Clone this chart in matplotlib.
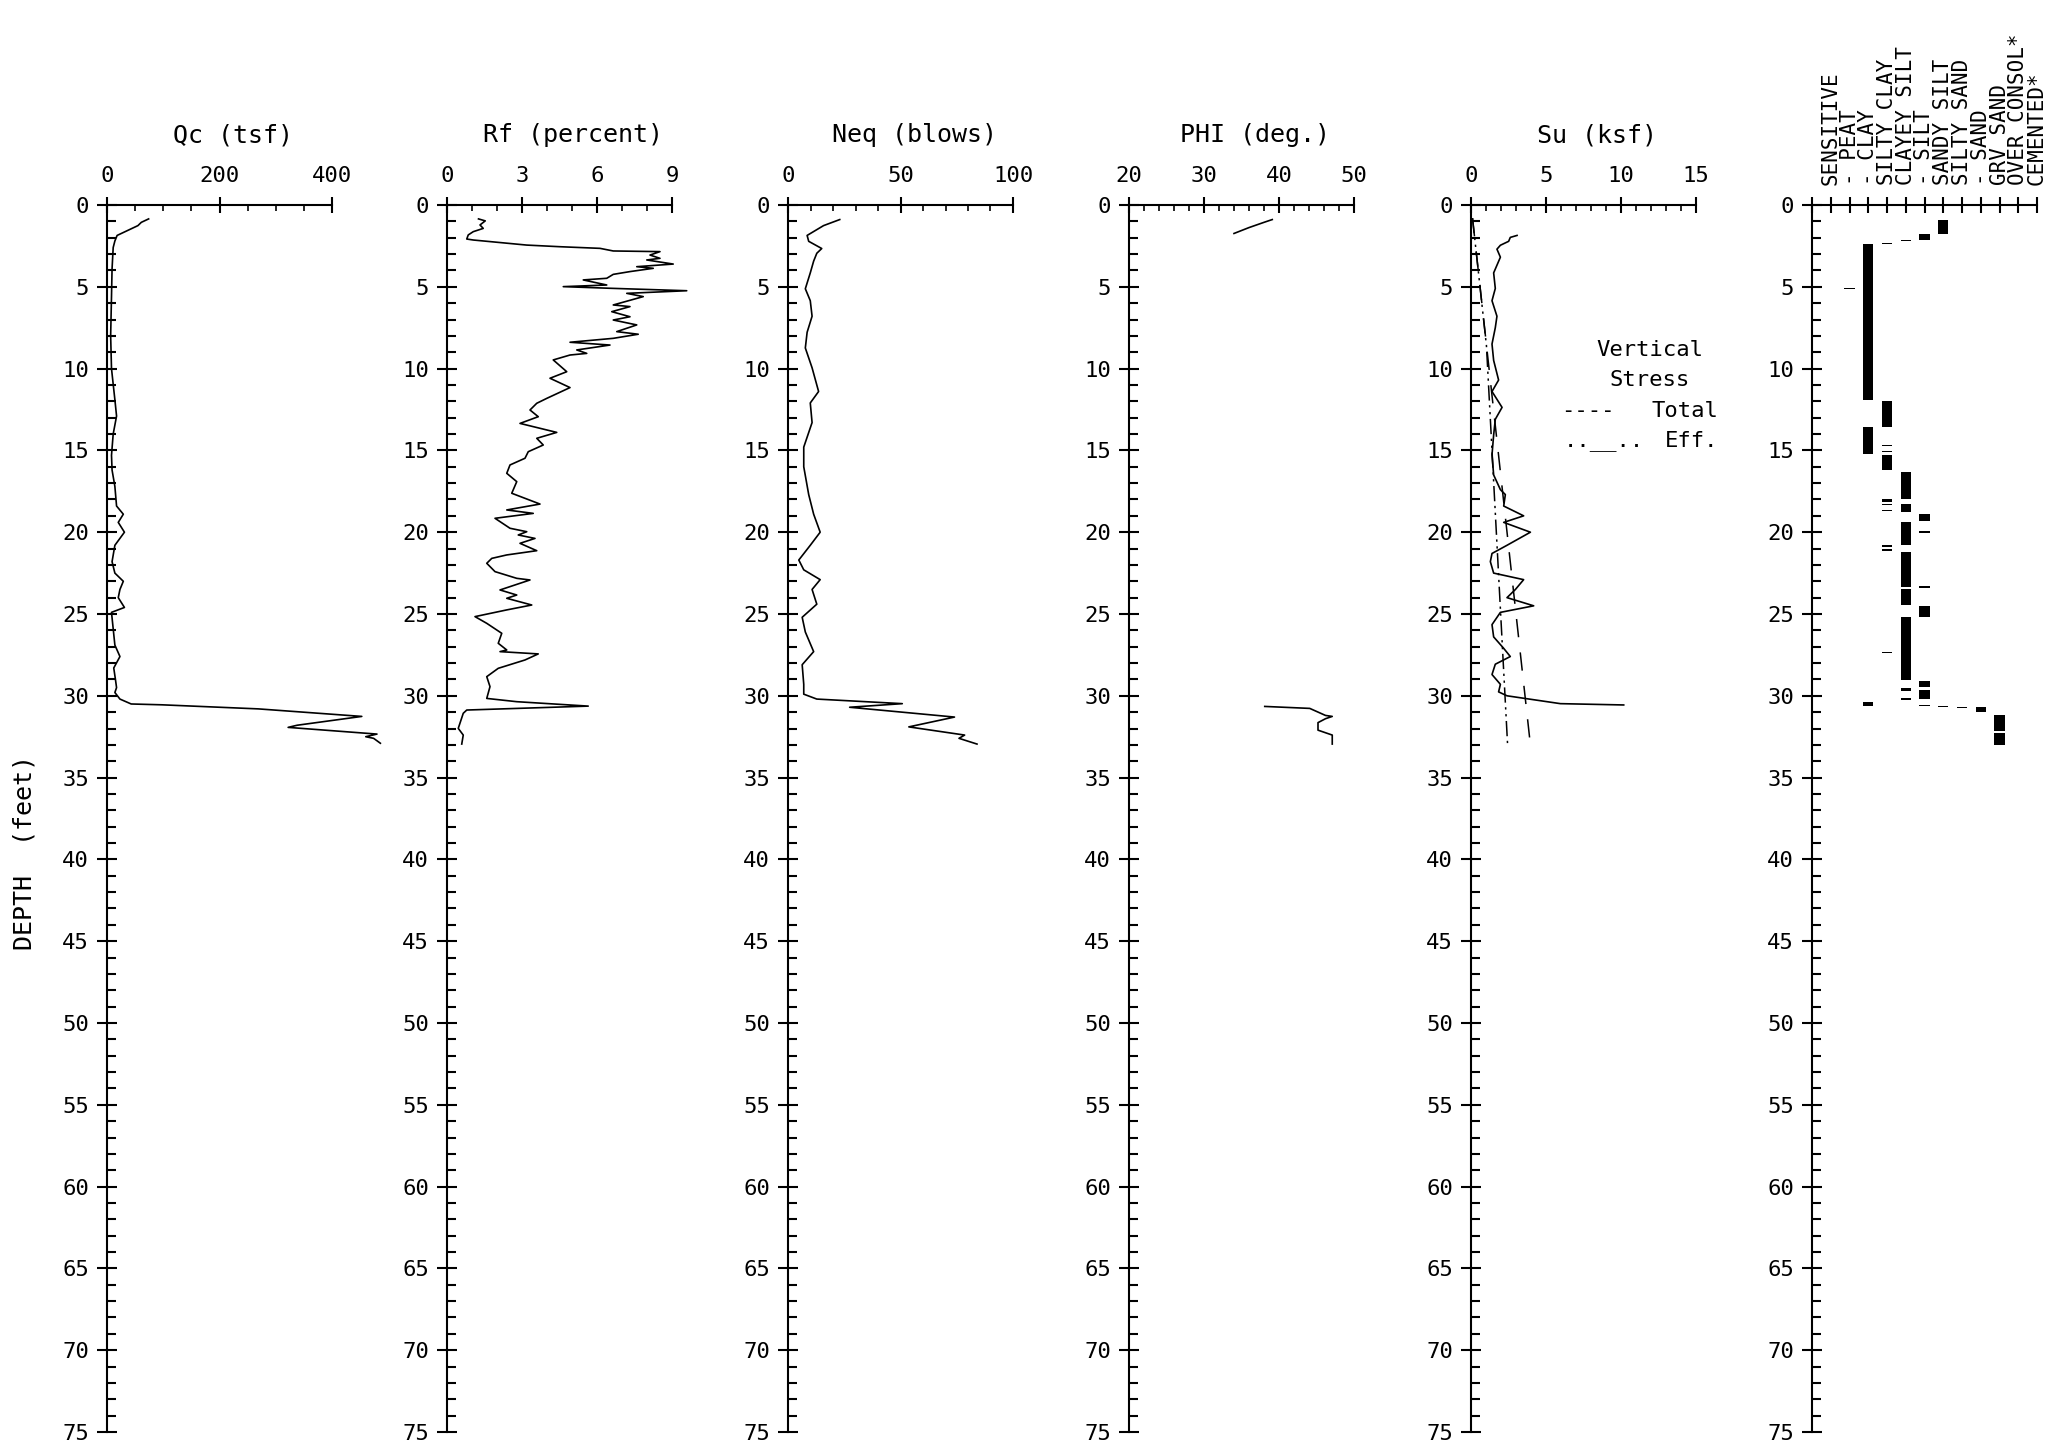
import numpy as np
import matplotlib.pyplot as plt
from matplotlib.ticker import MultipleLocator

plt.rcParams['font.family'] = ['DejaVu Sans Mono']

# ---- values (depth in feet) ----
qc_depth = [0.85, 1.06, 1.26, 1.86, 2.2, 2.6, 3.9, 5.6, 8.0, 10.0, 11.9, 12.9, 14.0, 15.3,
            16.2, 17.2, 18.4, 18.9, 19.4, 20.0, 20.8, 21.8, 22.5, 23.0, 23.5, 24.0, 24.6,
            24.9, 25.9, 26.9, 27.6, 28.3, 29.0, 29.5, 29.8, 30.2, 30.5, 30.55, 30.8, 31.26,
            31.8, 31.93, 32.34, 32.5, 32.6, 32.9]
qc = [74, 61, 55, 18, 14, 11, 9, 8, 6.5, 8, 14, 17, 11, 8, 9, 14, 17, 29, 20, 31, 14, 9, 14,
      29, 23, 20, 31, 8, 11, 14, 23, 12, 15, 17, 14, 23, 43, 97, 269, 453, 338, 322, 480,
      460, 474, 486]

rf_depth = [0.85, 0.97, 1.22, 1.43, 1.63, 1.83, 2.08, 2.14, 2.45, 2.55, 2.65, 2.81, 2.85,
            3.06, 3.26, 3.36, 3.61, 3.77, 3.87, 4.07, 4.24, 4.48, 4.58, 4.89, 4.99, 5.09,
            5.24, 5.4, 5.6, 6.11, 6.21, 6.52, 6.83, 7.03, 7.33, 7.74, 7.9, 8.15, 8.39, 8.56,
            8.86, 9.07, 9.17, 9.47, 10.19, 10.59, 11.16, 11.82, 12.12, 12.53, 12.94, 13.35,
            13.9, 14.26, 14.67, 15.08, 15.48, 15.89, 16.4, 16.91, 17.62, 18.28, 18.64, 18.85,
            19.15, 19.76, 19.97, 20.17, 20.38, 20.68, 21.13, 21.39, 21.6, 21.9, 22.41, 22.82,
            22.92, 23.53, 23.84, 24.04, 24.45, 24.75, 25.16, 25.57, 26.18, 26.79, 27.2, 27.3,
            27.44, 27.81, 28.32, 28.83, 29.44, 30.16, 30.36, 30.63, 30.87, 31.07, 31.99,
            32.4, 32.95]
rf = [1.26, 1.53, 1.32, 1.45, 1.05, 0.85, 0.79, 1.05, 3.19, 4.52, 6.12, 6.65, 8.52, 8.12,
      8.52, 7.99, 9.05, 7.59, 8.25, 7.32, 6.65, 6.39, 5.45, 6.39, 4.65, 6.52, 9.59, 7.19,
      7.85, 6.65, 7.32, 6.59, 7.32, 6.65, 7.59, 6.79, 7.65, 6.65, 4.92, 6.52, 5.19, 5.59,
      4.92, 4.25, 4.79, 4.12, 4.92, 3.99, 3.59, 3.32, 3.65, 2.92, 4.39, 3.59, 3.85, 3.25,
      3.12, 2.52, 2.39, 2.79, 2.59, 3.72, 2.39, 3.45, 1.92, 2.52, 3.19, 2.85, 3.52, 2.92,
      3.59, 2.39, 1.79, 1.59, 1.92, 2.79, 3.32, 2.12, 2.79, 2.39, 3.39, 2.39, 1.12, 1.59,
      2.19, 2.05, 2.39, 2.12, 3.65, 3.12, 2.05, 1.59, 1.72, 1.59, 2.79, 5.65, 0.79, 0.65,
      0.45, 0.65, 0.59]

neq_depth = [0.89, 1.26, 1.86, 2.22, 2.66, 2.95, 3.43, 4.15, 5.12, 5.85, 6.8, 7.78, 8.74, 9.95,
             11.4, 12.1, 13.3, 14.8, 16.0, 17.7, 18.9, 20.0, 20.8, 21.7, 22.3, 22.9, 23.5,
             24.4, 25.2, 26.1, 27.3, 28.1, 29.3, 29.9, 30.2, 30.48, 30.7, 31.3, 31.9, 32.4,
             32.6, 32.95]
neq = [23, 15.8, 8.5, 9.2, 15, 12.8, 11.4, 9.9, 7.7, 9.9, 10.7, 8.5, 7.7, 10.7, 13.6, 9.9,
       10.7, 7, 7, 9.2, 11.4, 14.3, 9.9, 4.8, 7, 14.3, 10.7, 12.8, 6.3, 7.7, 11.4, 6.3, 7, 7,
       12.8, 50.8, 27.4, 74, 53.7, 78.5, 76, 84]

phi_depth_top = [0.89, 1.06, 1.38, 1.74]
phi_top = [39.1, 38.0, 36.0, 34.0]
phi_depth_bot = [30.65, 30.77, 31.2, 31.26, 31.4, 31.64, 32.1, 32.4, 32.95]
phi_bot = [38.1, 44.1, 46.2, 47.1, 46.2, 45.2, 45.2, 47.1, 47.1]

su_depth = [1.86, 1.98, 2.22, 2.46, 2.7, 3.19, 4.15, 5.1, 5.85, 6.8, 7.5, 8.5, 9.5, 10.7,
            11.4, 12.37, 13.1, 14.06, 15.27, 16.5, 17.4, 17.7, 18.4, 19.0, 19.4, 20.0, 20.8,
            21.3, 21.8, 22.5, 22.9, 23.5, 24.0, 24.5, 24.9, 25.65, 26.4, 27.1, 27.6, 28.07,
            28.7, 29.3, 29.76, 30.0, 30.48, 30.56]
su = [3.07, 2.62, 2.51, 1.96, 1.73, 1.96, 1.51, 1.62, 1.4, 1.73, 1.62, 1.4, 1.51, 1.84, 1.4,
      2.07, 1.62, 1.51, 1.4, 1.51, 1.96, 2.29, 2.18, 3.51, 2.18, 3.96, 2.4, 1.4, 1.29, 1.51,
      3.51, 2.96, 2.4, 4.18, 1.96, 1.4, 1.51, 2.18, 2.62, 1.62, 1.4, 1.96, 1.84, 2.4, 5.96,
      10.18]

sv_total_depth = [0.8, 33.0]
sv_total = [0.1, 3.96]
sv_eff_depth = [0.8, 8.6, 33.0]
sv_eff = [0.1, 1.03, 2.44]

soil_names = ['SENSITIVE', '- PEAT', '- CLAY', 'SILTY CLAY', 'CLAYEY SILT', '- SILT',
              'SANDY SILT', 'SILTY SAND', '- SAND', 'GRV SAND', 'OVER CONSOL*', 'CEMENTED*']
# zone number, top depth, bottom depth
soil_zone = [7, 6, 5, 4, 3, 2, 4, 3, 4, 4, 4, 4, 4, 4, 4, 5, 5, 5, 5, 5, 5, 5, 5, 6, 6, 6,
             6, 6, 6, 6, 3, 7, 8, 9, 10, 10, 4, 4]
soil_top = [0.9, 1.8, 2.15, 2.3, 2.4, 5.08, 11.95, 13.6, 14.66, 15.03, 15.3, 18.0, 18.62,
            20.8, 27.3, 16.3, 18.3, 19.37, 21.2, 23.5, 25.17, 29.5, 30.12, 18.9, 19.93, 23.3,
            24.5, 29.08, 29.64, 30.55, 30.36, 30.6, 30.67, 30.67, 31.16, 32.3, 21.05, 18.25]
soil_bot = [1.8, 2.15, 2.22, 2.38, 11.9, 5.16, 13.55, 15.25, 14.74, 15.1, 16.2, 18.18, 18.72,
            20.9, 27.4, 17.97, 18.77, 20.8, 23.36, 24.45, 29.03, 29.7, 30.24, 19.32, 20.02,
            23.4, 25.17, 29.47, 30.19, 30.65, 30.6, 30.7, 30.77, 30.97, 32.17, 33.0, 21.15,
            18.35]

# ---- layout ----
W, H = 2047, 1447
fig = plt.figure(figsize=(W / 100, H / 100), dpi=100)
lefts = [107, 447, 788, 1129, 1471, 1812]
ax_w = 225
y_top, y_bot = 205, 1432

panels = [
    ('Qc (tsf)', (0, 400), 200, 50),
    ('Rf (percent)', (0, 9), 3, 1),
    ('Neq (blows)', (0, 100), 50, 10),
    ('PHI (deg.)', (20, 50), 10, 2),
    ('Su (ksf)', (0, 15), 5, 1),
    (None, (0, 12), 1, None),
]

axes = []
for left, (title, xl, maj, mnr) in zip(lefts, panels):
    ax = fig.add_axes([left / W, (H - y_bot) / H, ax_w / W, (y_bot - y_top) / H])
    ax.set_xlim(*xl)
    ax.set_ylim(75, 0)
    for s in ('right', 'bottom'):
        ax.spines[s].set_visible(False)
    for s in ('left', 'top'):
        ax.spines[s].set_linewidth(1.5)
    ax.xaxis.tick_top()
    ax.yaxis.set_major_locator(MultipleLocator(5))
    ax.yaxis.set_minor_locator(MultipleLocator(1))
    ax.tick_params(axis='y', which='major', direction='inout', length=14, width=1.5,
                   pad=6, labelsize=16)
    ax.tick_params(axis='y', which='minor', direction='in', length=6.5, width=1.5)
    ax.xaxis.set_major_locator(MultipleLocator(maj))
    if mnr:
        ax.xaxis.set_minor_locator(MultipleLocator(mnr))
    ax.tick_params(axis='x', which='major', direction='inout', length=12, width=1.5,
                   pad=8, labelsize=16)
    ax.tick_params(axis='x', which='minor', direction='in', length=4.5, width=1.2)
    if title:
        ax.text(0.56, 1.057, title, transform=ax.transAxes, ha='center', va='center',
                fontsize=18)
    axes.append(ax)

lw = 1.2
ax_qc, ax_rf, ax_neq, ax_phi, ax_su, ax_soil = axes
ax_qc.plot(qc, qc_depth, color='black', lw=lw, clip_on=False)
ax_rf.plot(rf, rf_depth, color='black', lw=lw, clip_on=False)
ax_neq.plot(neq, neq_depth, color='black', lw=lw, clip_on=False)
ax_phi.plot(phi_top, phi_depth_top, color='black', lw=lw)
ax_phi.plot(phi_bot, phi_depth_bot, color='black', lw=lw)
ax_su.plot(su, su_depth, color='black', lw=lw)
ax_su.plot(sv_total, sv_total_depth, color='black', lw=1.1, dashes=(12, 10))
ax_su.plot(sv_eff, sv_eff_depth, color='black', lw=1.1, dashes=(10, 3, 1.5, 3, 1.5, 3))

# legend written as text, like the plotter did
ax_su.text(11.9, 8.86, 'Vertical', ha='center', va='center', fontsize=16)
ax_su.text(11.9, 10.7, 'Stress', ha='center', va='center', fontsize=16)
ax_su.text(6.0, 12.6, '----', ha='left', va='center', fontsize=16)
ax_su.text(12.0, 12.6, 'Total', ha='left', va='center', fontsize=16)
ax_su.text(6.2, 14.4, '..__..', ha='left', va='center', fontsize=16)
ax_su.text(12.9, 14.4, 'Eff.', ha='left', va='center', fontsize=16)

# soil behaviour type column
ax_soil.set_xticklabels([])
ax_soil.tick_params(axis='x', which='major', length=12)
bw = 0.55
for z, t, b in zip(soil_zone, soil_top, soil_bot):
    h = max(b - t, 0.08)
    ax_soil.barh((t + b) / 2, bw, height=h, left=z - bw / 2, color='black', lw=0)
for i, name in enumerate(soil_names):
    ax_soil.text(i + 1, 1.016, name, transform=ax_soil.get_xaxis_transform(),
                 rotation=90, ha='center', va='bottom', fontsize=15)

fig.text(25 / W, 1 - 852 / H, 'DEPTH  (feet)', rotation=90, ha='center', va='center',
         fontsize=18)

fig.savefig('out.png', dpi=100, facecolor='white')
